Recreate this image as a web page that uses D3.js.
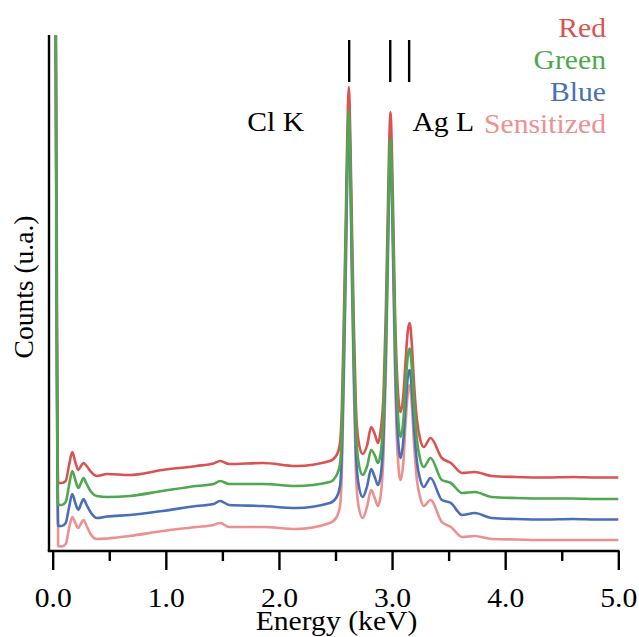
<!DOCTYPE html>
<html>
<head>
<meta charset="utf-8">
<script src="https://cdn.jsdelivr.net/npm/d3@7"></script>
<style>
  html, body { margin: 0; padding: 0; background: #fff; }
  svg { display: block; }
  text { font-family: "Liberation Serif", "Times New Roman", serif; }
</style>
</head>
<body>
<svg id="chart" width="639" height="637"></svg>
<script>
// Energy grid (keV) shared by all four EDS spectra
const energy = [
  0.022, 0.048, 0.080, 0.115, 0.145, 0.173, 0.200, 0.226, 0.250, 0.272,
  0.300, 0.340, 0.390, 0.480, 0.680, 0.970, 1.270, 1.420, 1.480, 1.560,
  1.860, 2.150, 2.450, 2.510, 2.540, 2.556, 2.573, 2.591, 2.604, 2.618,
  2.631, 2.644, 2.662, 2.680, 2.702, 2.740, 2.780, 2.815, 2.850, 2.875,
  2.900, 2.925, 2.945, 2.962, 2.974, 2.986, 2.998, 3.010, 3.025, 3.045,
  3.075, 3.100, 3.120, 3.140, 3.156, 3.175, 3.195, 3.220, 3.250, 3.280,
  3.340, 3.440, 3.520, 3.620, 3.730, 3.880, 4.100, 4.350, 4.600, 4.800,
  5.000
];

// Counts (u.a.), spectra stacked with a vertical offset
const redCounts = [
  700, 68, 68, 70, 86, 99, 89, 81, 85, 88,
  85, 79, 75, 77, 76, 81, 85, 87.5, 90, 87,
  88, 85, 90, 96, 108, 142, 226, 332, 414, 464,
  414, 332, 226, 146, 111, 97, 106, 124, 116, 108,
  121, 158, 238, 336, 403, 439, 403, 336, 246, 174,
  139, 156, 191, 221, 228, 206, 166, 131, 111, 104,
  113, 93, 88, 78, 79, 75, 74, 73.5, 74, 73.5,
  73.5
];
const greenCounts = [
  700, 46, 46, 49, 66, 80, 71, 63, 68, 73,
  67, 59, 55, 54, 55, 60, 65, 67, 70, 67,
  67, 65, 69, 76, 87, 121, 206, 312, 394, 441,
  394, 312, 206, 124, 90, 76, 85, 101, 95, 88,
  98, 138, 218, 311, 378, 413, 378, 311, 226, 154,
  114, 131, 166, 196, 202.5, 183, 146, 111, 91, 84,
  93, 71, 68, 58, 59, 54, 53, 52.5, 52.5, 52,
  52
];
const blueCounts = [
  700, 25, 25, 28, 44, 57, 48, 41, 47, 52,
  46, 38, 33, 34.5, 36, 40, 45, 47, 50, 46,
  45, 43, 48, 54, 65, 99, 183, 292, 384, 433,
  384, 292, 183, 101, 68, 54, 65, 82, 73, 66,
  76, 118, 198, 296, 368, 403, 368, 296, 206, 129,
  93, 111, 146, 175, 181, 161, 123, 89, 71, 64,
  73, 51, 48, 36, 38, 33, 32, 31.5, 32, 31.5,
  31.5
];
const sensitizedCounts = [
  700, 5, 4.5, 7, 23, 34, 28, 23, 27.5, 31,
  25, 16, 12, 12.5, 15, 20, 24, 26, 28, 24,
  24, 22, 28, 34, 45, 79, 166, 277, 374, 426,
  374, 277, 166, 80, 46, 33, 45, 61, 52, 45,
  56, 98, 178, 281, 358, 396, 358, 281, 186, 106,
  71, 89, 129, 159, 166, 146, 106, 71, 53, 45,
  51, 29, 24, 14, 15, 12, 11.5, 11, 11, 11,
  11
];

const seriesNames = ["Red", "Green", "Blue", "Sensitized"];
const seriesColors = ["#da5252", "#4fa84f", "#4a6fb6", "#ec9090"];
const seriesCounts = [redCounts, greenCounts, blueCounts, sensitizedCounts];
const drawOrder = [3, 0, 2, 1];

const majorTicks = [0, 1, 2, 3, 4, 5];
const minorTicks = [0.5, 1.5, 2.5, 3.5, 4.5];
const tickLabels = ["0.0", "1.0", "2.0", "3.0", "4.0", "5.0"];

// Emission line positions (keV): Cl Kα, Ag Lα, Ag Lβ1
const lineMarkers = [2.621, 2.984, 3.151];
const lineLabels = [{ text: "Cl K", e: 1.72 }, { text: "Ag L", e: 3.18 }];

const SX = 1.12;     // horizontal stretch of the serif lettering
const FS = 26.5;

const svg = d3.select("#chart");
const plotLeft = 49, plotTop = 35, plotBottom = 551;
const x = d3.scaleLinear().domain([0, 5]).range([52.7, 618.3]);
const y = d3.scaleLinear().domain([0, 516]).range([plotBottom, plotTop]);

svg.append("defs").append("clipPath").attr("id", "plotClip")
  .append("rect").attr("x", plotLeft).attr("y", plotTop)
  .attr("width", x(5) - plotLeft + 3).attr("height", plotBottom - plotTop);

// spectra
const line = d3.line()
  .x(d => x(d[0]))
  .y(d => y(d[1]))
  .curve(d3.curveMonotoneX);

const plot = svg.append("g").attr("clip-path", "url(#plotClip)");
drawOrder.forEach(i => {
  const pts = energy.map((e, k) => [e, seriesCounts[i][k]]);
  plot.append("path")
    .datum(pts)
    .attr("d", line)
    .attr("fill", "none")
    .attr("stroke", seriesColors[i])
    .attr("stroke-width", 2.6)
    .attr("stroke-linejoin", "round");
});

// axes
const axisG = svg.append("g").attr("transform", `translate(0,${plotBottom})`);
axisG.append("g")
  .call(d3.axisBottom(x).tickValues(minorTicks).tickSize(10).tickFormat("").tickSizeOuter(0))
  .call(g => g.select(".domain").remove())
  .selectAll("line").attr("stroke", "#000").attr("stroke-width", 2.4);

const major = axisG.append("g")
  .call(d3.axisBottom(x).tickValues(majorTicks).tickSize(19)
    .tickFormat((d, i) => tickLabels[i]).tickSizeOuter(0))
  .call(g => g.select(".domain").remove());
major.selectAll("line").attr("stroke", "#000").attr("stroke-width", 2.4);
major.selectAll("text")
  .attr("y", 0).attr("dy", null)
  .attr("transform", `translate(0,56) scale(${SX},1)`)
  .attr("fill", "#000")
  .style("font-size", FS + "px")
  .style("font-family", '"Liberation Serif", "Times New Roman", serif');

svg.append("line")
  .attr("x1", plotLeft - 1.2).attr("x2", x(5) + 1.2)
  .attr("y1", plotBottom).attr("y2", plotBottom)
  .attr("stroke", "#000").attr("stroke-width", 2.4);
svg.append("line")
  .attr("x1", plotLeft).attr("x2", plotLeft)
  .attr("y1", plotTop).attr("y2", plotBottom)
  .attr("stroke", "#000").attr("stroke-width", 2.4);

// axis titles
svg.append("text")
  .attr("transform", `translate(${x(2.5) + 1},630) scale(${SX},1)`)
  .attr("text-anchor", "middle")
  .style("font-size", FS + "px")
  .text("Energy (keV)");

svg.append("text")
  .attr("transform", "translate(33,287) rotate(-90)")
  .attr("text-anchor", "middle")
  .style("font-size", "27.5px")
  .text("Counts (u.a.)");

// emission line markers
svg.append("g").selectAll("line")
  .data(lineMarkers)
  .join("line")
  .attr("x1", d => x(d)).attr("x2", d => x(d))
  .attr("y1", 40).attr("y2", 82)
  .attr("stroke", "#000").attr("stroke-width", 2.4);

svg.append("g").selectAll("text")
  .data(lineLabels)
  .join("text")
  .attr("transform", d => `translate(${x(d.e)},131) scale(${SX},1)`)
  .attr("text-anchor", "start")
  .style("font-size", FS + "px")
  .text(d => d.text);

// legend
svg.append("g").selectAll("text")
  .data(seriesNames)
  .join("text")
  .attr("transform", (d, i) => `translate(606,${36.7 + i * 32.1}) scale(${SX},1)`)
  .attr("text-anchor", "end")
  .attr("fill", (d, i) => seriesColors[i])
  .style("font-size", FS + "px")
  .text(d => d);
</script>
</body>
</html>
